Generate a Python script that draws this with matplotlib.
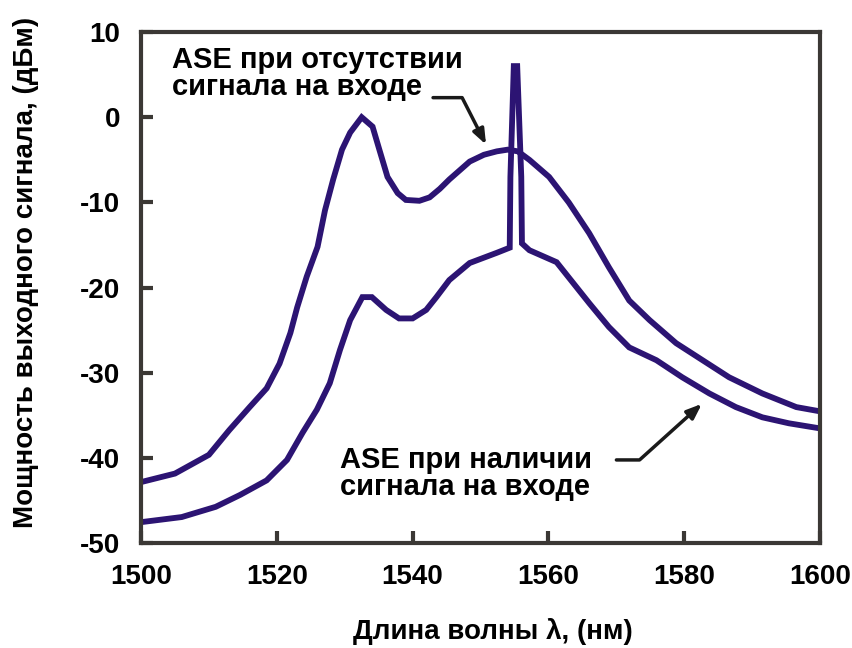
import matplotlib
matplotlib.use("Agg")
import matplotlib.pyplot as plt

plt.rcParams['font.family'] = ['Liberation Sans', 'DejaVu Sans']
plt.rcParams['font.weight'] = 'bold'
plt.rcParams['axes.unicode_minus'] = False

# ASE without input signal
wl_nosig = [1500, 1505, 1510, 1513, 1516, 1518.5, 1520.4, 1522, 1523, 1524.4, 1526,
            1527.1, 1528.3, 1529.6, 1530.8, 1532.5, 1534.1, 1535.1, 1536.3, 1537.8,
            1539, 1541, 1542.5, 1544, 1545.4, 1548.4, 1550.5, 1552.4, 1554, 1555.5,
            1557.2, 1560.1, 1563, 1566, 1568.9, 1571.9, 1574.9, 1578.8, 1582.7,
            1586.6, 1591.5, 1596.5, 1600]
p_nosig = [-42.8, -41.8, -39.6, -36.7, -34.0, -31.8, -28.9, -25.3, -22.3, -18.7, -15.2,
           -10.9, -7.3, -3.8, -1.8, 0.0, -1.1, -3.8, -7.0, -8.9,
           -9.7, -9.8, -9.4, -8.4, -7.3, -5.2, -4.4, -4.0, -3.8, -4.0,
           -5.0, -7.0, -10.0, -13.6, -17.6, -21.5, -23.8, -26.5, -28.5,
           -30.5, -32.4, -34.0, -34.5]

# ASE with input signal (signal peak near 1555 nm)
wl_sig = [1500, 1506, 1511, 1514.6, 1518.5, 1521.5, 1523.8, 1525.9, 1527.8, 1529.3,
          1530.8, 1532.6, 1534, 1536.1, 1538, 1540, 1542, 1543.5, 1545.4, 1548.4,
          1552.4, 1554.3, 1554.4, 1554.9, 1555.4, 1556.0, 1556.1, 1557.2, 1561.2,
          1563, 1566, 1568.9, 1571.9, 1575.9, 1579.7, 1583.7, 1587.6, 1591.5,
          1595.4, 1600]
p_sig = [-47.5, -46.9, -45.7, -44.3, -42.6, -40.2, -37.0, -34.3, -31.2, -27.3,
         -23.8, -21.1, -21.1, -22.6, -23.6, -23.6, -22.6, -21.1, -19.1, -17.1,
         -15.9, -15.3, -7.0, 6.0, 6.0, -7.0, -14.8, -15.6, -17.0,
         -18.8, -21.8, -24.6, -27.0, -28.5, -30.5, -32.4, -34.0, -35.2,
         -35.9, -36.5]

xticks = [1500, 1520, 1540, 1560, 1580, 1600]
yticks = [10, 0, -10, -20, -30, -40, -50]

line_color = '#2c1473'
axis_color = '#3b3835'

fig = plt.figure(figsize=(8.52, 6.48), dpi=100)
ax = fig.add_axes([0.1655, 0.1613, 0.797, 0.7893])

ax.plot(wl_nosig, p_nosig, color=line_color, lw=4.2, solid_joinstyle='miter')
ax.plot(wl_sig, p_sig, color=line_color, lw=4.2, solid_joinstyle='miter')

ax.set_xlim(1500, 1600)
ax.set_ylim(-50, 10)
ax.set_xticks(xticks)
ax.set_yticks(yticks)
ax.tick_params(direction='in', length=8.5, width=3, color=axis_color,
               labelsize=20, pad=15, top=False, right=False)
for lbl in ax.get_xticklabels() + ax.get_yticklabels():
    lbl.set_fontweight('bold')
for sp in ax.spines.values():
    sp.set_color(axis_color)
    sp.set_linewidth(3)

ax.set_xlabel('Длина волны λ, (нм)', fontsize=20, fontweight='bold')
ax.set_ylabel('Мощность выходного сигнала, (дБм)', fontsize=20, fontweight='bold')
ax.xaxis.set_label_coords(0.518, -0.145)
ax.yaxis.set_label_coords(-0.15, 0.53)

ax.text(1504.6, 8.4, 'ASE при отсутствии\nсигнала на входе', fontsize=21,
        fontweight='bold', ha='left', va='top', linespacing=0.95)
ax.annotate('', xy=(1551.0, -3.5), xytext=(1542.6, 2.3),
            arrowprops=dict(arrowstyle='-|>,head_length=0.9,head_width=0.35',
                            color='#1a1a1a', lw=2.5,
                            connectionstyle='angle,angleA=0,angleB=-63,rad=0'))

ax.text(1529.3, -38.6, 'ASE при наличии\nсигнала на входе', fontsize=21,
        fontweight='bold', ha='left', va='top', linespacing=0.95)
ax.annotate('', xy=(1582.9, -33.4), xytext=(1569.6, -40.2),
            arrowprops=dict(arrowstyle='-|>,head_length=0.9,head_width=0.35',
                            color='#1a1a1a', lw=2.5,
                            connectionstyle='angle,angleA=0,angleB=42,rad=0'))

fig.savefig('out.png', dpi=100)
